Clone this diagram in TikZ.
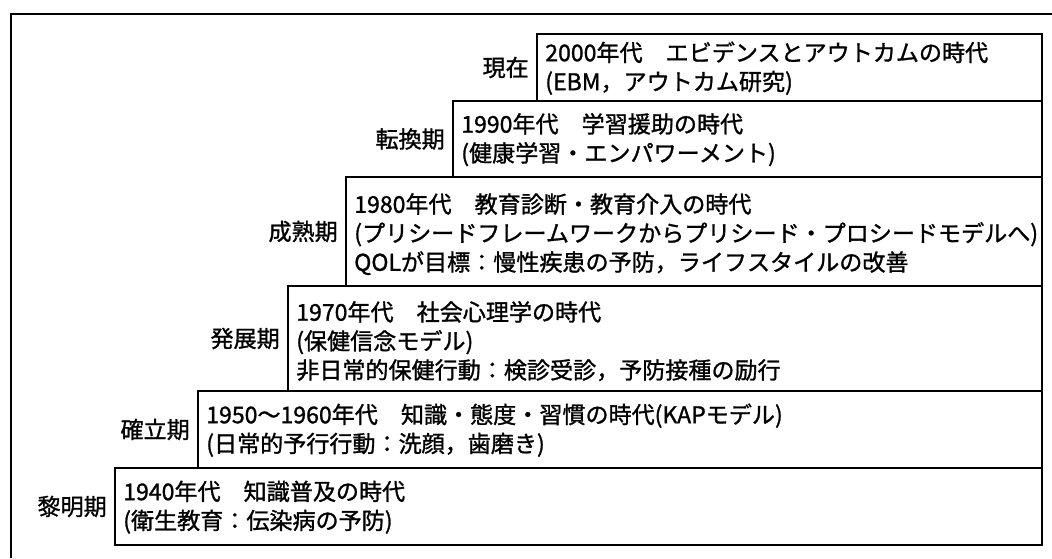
\documentclass[tikz,border=0pt]{standalone}
\usepackage{fontspec}
\setmainfont{Noto Sans CJK JP}
\newfontfamily\jpfont[FakeBold=1.2]{Noto Sans CJK JP}
\usetikzlibrary{fit}
\begin{document}
\begin{tikzpicture}[x=0.75pt,y=-0.75pt,
  box/.style={draw, line width=1.2pt, inner sep=0pt, outer sep=0pt},
  era/.style={anchor=west, align=left, inner sep=0pt, font=\jpfont\fontsize{17.3pt}{21.75pt}\selectfont},
  period/.style={anchor=east, inner sep=0pt, font=\jpfont\fontsize{17.3pt}{21.75pt}\selectfont},
  frame/.style={line width=0.9pt}]
\useasboundingbox (0,0) rectangle (1052,558);
% outer frame (open to the right and bottom)
\coordinate (f1) at (11,558);
\coordinate (f2) at (11,14);
\coordinate (f3) at (1052,14);
\draw[frame] (f1) -- (f2) -- (f3);
% box corners
\coordinate (a6) at (537,34);  \coordinate (z6) at (1042,101);
\coordinate (a5) at (453,101); \coordinate (z5) at (1042,177);
\coordinate (a4) at (346,177); \coordinate (z4) at (1042,286);
\coordinate (a3) at (288,286); \coordinate (z3) at (1042,391);
\coordinate (a2) at (198,391); \coordinate (z2) at (1042,468);
\coordinate (a1) at (115,468); \coordinate (z1) at (1042,545);
\node[box, fit=(a6)(z6)] (p6) {};
\node[box, fit=(a5)(z5)] (p5) {};
\node[box, fit=(a4)(z4)] (p4) {};
\node[box, fit=(a3)(z3)] (p3) {};
\node[box, fit=(a2)(z2)] (p2) {};
\node[box, fit=(a1)(z1)] (p1) {};
% contents
\node[era] (t6) at ([xshift=6pt,yshift=-0.5pt]p6.west) {2000年代　エビデンスとアウトカムの時代\\(EBM，アウトカム研究)};
\node[era] (t5) at ([xshift=6pt,yshift=-0.5pt]p5.west) {1990年代　学習援助の時代\\(健康学習・エンパワーメント)};
\node[era] (t4) at ([xshift=6pt,yshift=-2pt]p4.west) {1980年代　教育診断・教育介入の時代\\(プリシードフレームワークからプリシード・プロシードモデルへ)\\QOLが目標：慢性疾患の予防，ライフスタイルの改善};
\node[era] (t3) at ([xshift=6pt,yshift=-2pt]p3.west) {1970年代　社会心理学の時代\\(保健信念モデル)\\非日常的保健行動：検診受診，予防接種の励行};
\node[era] (t2) at ([xshift=6pt,yshift=-0.5pt]p2.west) {1950〜1960年代　知識・態度・習慣の時代(KAPモデル)\\(日常的予行行動：洗顔，歯磨き)};
\node[era] (t1) at ([xshift=6pt,yshift=-0.5pt]p1.west) {1940年代　知識普及の時代\\(衛生教育：伝染病の予防)};
% period labels
\node[period] (l6) at ([xshift=-6pt]p6.west) {現在};
\node[period] (l5) at ([xshift=-6pt]p5.west) {転換期};
\node[period] (l4) at ([xshift=-6pt]p4.west) {成熟期};
\node[period] (l3) at ([xshift=-6pt]p3.west) {発展期};
\node[period] (l2) at ([xshift=-6pt]p2.west) {確立期};
\node[period] (l1) at ([xshift=-6pt]p1.west) {黎明期};
\end{tikzpicture}
\end{document}
